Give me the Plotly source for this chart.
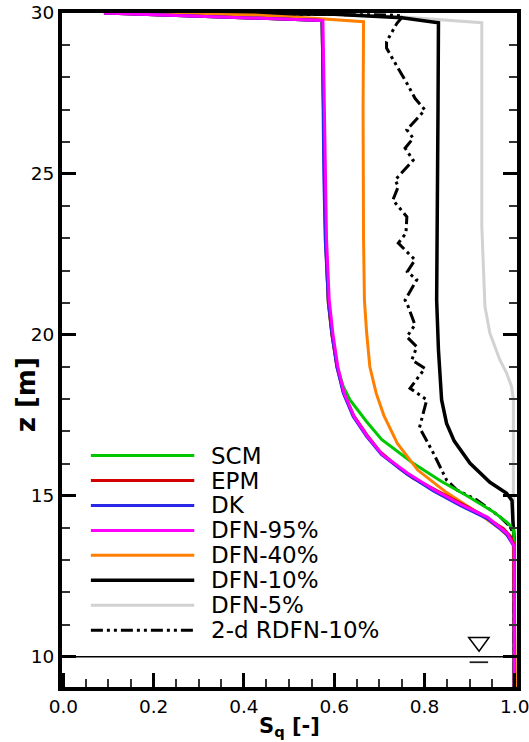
import plotly.graph_objects as go

# Saturation profiles S_q(z) for the different conceptual models
series_names = ["SCM", "EPM", "DK", "DFN-95%", "DFN-40%", "DFN-10%", "DFN-5%", "2-d RDFN-10%"]
series_colors = ["#00c800", "#d40000", "#2828e6", "#ff00ff", "#ff8000", "#000000", "#d2d2d2", "#000000"]

scm_s = [0.09, 0.50, 0.573, 0.574, 0.576, 0.578, 0.581, 0.587, 0.595, 0.607, 0.620, 0.635, 0.672, 0.705, 0.775, 0.837, 0.894, 0.953, 0.985, 0.997, 0.999, 0.999]
scm_z = [30.0, 29.80, 29.77, 29.0, 27.0, 25.0, 23.0, 21.0, 20.0, 19.0, 18.4, 17.98, 17.3, 16.75, 16.01, 15.45, 15.0, 14.5, 14.15, 13.95, 13.6, 9.0]

epm_s = [0.09, 0.50, 0.573, 0.574, 0.576, 0.578, 0.581, 0.587, 0.595, 0.606, 0.621, 0.643, 0.672, 0.701, 0.745, 0.775, 0.849, 0.923, 0.975, 0.990, 0.998, 0.999]
epm_z = [30.0, 29.80, 29.77, 29.0, 27.0, 25.0, 23.0, 21.0, 20.0, 19.0, 18.2, 17.5, 16.9, 16.38, 15.85, 15.55, 15.0, 14.45, 13.98, 13.75, 13.5, 9.0]

dk_s = [0.09, 0.50, 0.573, 0.574, 0.575, 0.577, 0.580, 0.587, 0.595, 0.606, 0.620, 0.642, 0.672, 0.705, 0.761, 0.820, 0.879, 0.938, 0.967, 0.982, 0.999, 0.999]
dk_z = [30.0, 29.80, 29.77, 29.0, 27.0, 25.0, 23.0, 21.08, 20.05, 19.01, 18.19, 17.46, 16.84, 16.28, 15.68, 15.15, 14.70, 14.30, 13.98, 13.80, 13.42, 9.0]

dfn95_s = [0.09, 0.50, 0.575, 0.576, 0.578, 0.580, 0.583, 0.589, 0.597, 0.608, 0.622, 0.644, 0.674, 0.707, 0.763, 0.822, 0.881, 0.940, 0.969, 0.984, 0.999, 0.999]
dfn95_z = [30.0, 29.80, 29.77, 29.0, 27.0, 25.0, 23.0, 21.08, 20.05, 19.01, 18.19, 17.46, 16.84, 16.28, 15.70, 15.18, 14.73, 14.33, 14.0, 13.82, 13.42, 9.0]

dfn40_s = [0.09, 0.42, 0.554, 0.665, 0.664, 0.664, 0.665, 0.667, 0.672, 0.679, 0.693, 0.710, 0.740, 0.785, 0.849, 0.915, 0.965, 0.985, 0.997, 1.002]
dfn40_z = [30.0, 29.94, 29.84, 29.73, 27.0, 25.0, 23.0, 21.08, 20.05, 19.01, 18.19, 17.5, 16.63, 15.8, 15.1, 14.5, 14.0, 13.75, 13.55, 9.0]

dfn10_s = [0.09, 0.60, 0.75, 0.831, 0.830, 0.828, 0.827, 0.831, 0.838, 0.849, 0.866, 0.901, 0.945, 0.982, 0.994, 0.996, 0.997, 0.999, 0.999]
dfn10_z = [30.0, 29.96, 29.85, 29.70, 27.0, 24.0, 21.08, 19.53, 17.98, 17.25, 16.7, 16.01, 15.42, 15.08, 14.85, 14.2, 13.83, 13.6, 9.0]

dfn5_s = [0.09, 0.65, 0.761, 0.927, 0.927, 0.934, 0.945, 0.967, 0.982, 0.993, 0.997, 0.997]
dfn5_z = [30.0, 29.95, 29.87, 29.70, 23.4, 20.88, 20.05, 19.22, 18.81, 18.39, 17.98, 9.0]

rdfn_s = [0.09, 0.48, 0.72, 0.753, 0.739, 0.716, 0.716, 0.731, 0.746, 0.761, 0.779, 0.801, 0.761, 0.775, 0.757,
          0.775, 0.735, 0.742, 0.730, 0.761, 0.759, 0.742, 0.779, 0.762, 0.783, 0.757, 0.764, 0.779, 0.761,
          0.783, 0.772, 0.801, 0.768, 0.805, 0.789, 0.820, 0.849, 0.872, 0.916, 0.967, 0.990, 0.997, 0.999]
rdfn_z = [30.0, 29.95, 29.94, 29.91, 29.68, 29.11, 28.91, 28.54, 28.2, 27.82, 27.35, 26.99, 26.37, 26.11, 25.80,
          25.43, 24.81, 24.61, 24.19, 23.67, 23.16, 22.85, 22.33, 21.96, 21.71, 21.08, 20.88, 20.31, 19.94,
          19.63, 19.22, 18.96, 18.34, 17.98, 17.12, 16.32, 15.49, 15.18, 14.87, 14.35, 14.04, 13.8, 9.0]

profiles = {
    "SCM": (scm_s, scm_z),
    "EPM": (epm_s, epm_z),
    "DK": (dk_s, dk_z),
    "DFN-95%": (dfn95_s, dfn95_z),
    "DFN-40%": (dfn40_s, dfn40_z),
    "DFN-10%": (dfn10_s, dfn10_z),
    "DFN-5%": (dfn5_s, dfn5_z),
    "2-d RDFN-10%": (rdfn_s, rdfn_z),
}
line_widths = {"DFN-10%": 3.5}
dash_styles = {"2-d RDFN-10%": "12px,4px,3px,4px,3px,4px"}

water_table_z = 10.0
x_ticks = [0.0, 0.2, 0.4, 0.6, 0.8, 1.0]
y_ticks = [10, 15, 20, 25, 30]

FONT = "DejaVu Sans"

fig = go.Figure()

draw_order = ["DFN-5%", "DFN-10%", "2-d RDFN-10%", "SCM", "DFN-40%", "EPM", "DK", "DFN-95%"]
for name in draw_order:
    s, z = profiles[name]
    color = series_colors[series_names.index(name)]
    fig.add_trace(go.Scatter(
        x=s, y=z, mode="lines", name=name, showlegend=False,
        line=dict(color=color, width=line_widths.get(name, 3), dash=dash_styles.get(name, "solid")),
    ))

shapes = []
annotations = []

# water table line and symbol
shapes.append(dict(type="line", xref="paper", yref="y", x0=0, x1=1, y0=water_table_z, y1=water_table_z,
                   line=dict(color="black", width=1.5)))
shapes.append(dict(type="path", xref="x", yref="y",
                   path="M0.898,10.60 L0.943,10.60 L0.921,10.17 Z",
                   line=dict(color="black", width=1.5)))
shapes.append(dict(type="line", xref="x", yref="y", x0=0.900, x1=0.941, y0=9.83, y1=9.83,
                   line=dict(color="#222222", width=1.8)))

# legend block
leg_z0, leg_dz = 16.25, 0.775
for i, name in enumerate(series_names):
    zz = leg_z0 - i * leg_dz
    shapes.append(dict(type="line", xref="x", yref="y", x0=0.061, x1=0.290, y0=zz, y1=zz,
                       line=dict(color=series_colors[i], width=line_widths.get(name, 3),
                                 dash=dash_styles.get(name, "solid"))))
    annotations.append(dict(text=name, xref="x", yref="y", x=0.322, y=zz, xanchor="left", yanchor="middle",
                            showarrow=False, font=dict(family=FONT, size=23, color="black")))

# axis titles
annotations.append(dict(text="<b>z [m]</b>", xref="paper", yref="paper", x=-0.079, y=0.433,
                        textangle=-90, showarrow=False, xanchor="center", yanchor="middle",
                        font=dict(family=FONT, size=26, color="black")))
annotations.append(dict(text="<b>S<sub>q</sub> [-]</b>", xref="paper", yref="paper", x=0.501, y=-0.060,
                        showarrow=False, xanchor="center", yanchor="middle",
                        font=dict(family=FONT, size=21, color="black")))

axis_common = dict(
    showgrid=False, zeroline=False, showline=True, linewidth=4, linecolor="black",
    ticks="inside", ticklen=14, tickwidth=2.5, tickcolor="black", automargin=False,
    ticklabeloverflow="allow",
    tickfont=dict(family=FONT, size=18.5, color="black"),
)

fig.update_layout(
    width=529, height=742,
    margin=dict(l=62, r=12, t=13, b=55),
    paper_bgcolor="white", plot_bgcolor="white",
    shapes=shapes, annotations=annotations,
    xaxis=dict(range=[-0.003, 1.005], tickvals=x_ticks, ticktext=[f"{v:.1f}" for v in x_ticks],
               mirror=True,
               minor=dict(dtick=0.05, tick0=0, ticks="inside", ticklen=8, tickwidth=1.5, tickcolor="#333333"),
               **axis_common),
    yaxis=dict(range=[9.06, 30.0], tickvals=y_ticks, ticktext=[str(v) for v in y_ticks],
               mirror="ticks",
               minor=dict(dtick=1, tick0=0, ticks="inside", ticklen=8, tickwidth=1.5, tickcolor="#333333"),
               **axis_common),
)

fig.write_html("out.html")
